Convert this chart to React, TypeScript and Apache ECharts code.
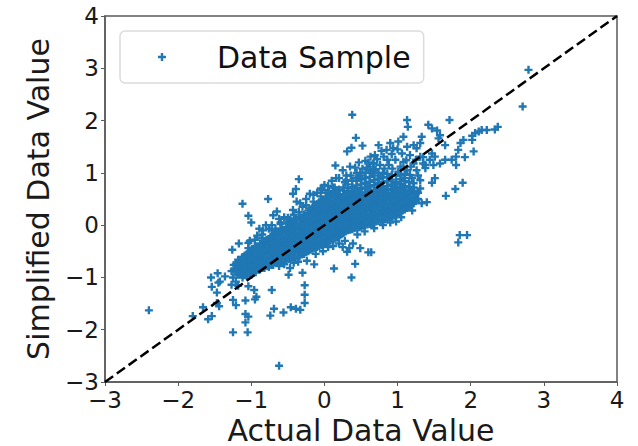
import React, { useEffect, useRef } from "react";
import * as echarts from "echarts";

const seriesName = "Data Sample";
const xTitle = "Actual Data Value";
const yTitle = "Simplified Data Value";
const axisMin = -3;
const axisMax = 4;
const identityLine = [[-3, -3], [4, 4]];

// dense band, one row per x value: [x, y, y, ...]
const coreColumns: number[][] = [
  [-1.24, -0.85, -0.76],
  [-1.18, -0.95, -0.86, -0.77, -0.66],
  [-1.12, -1.0, -0.91, -0.82, -0.73, -0.61],
  [-1.06, -0.97, -0.87, -0.78, -0.69, -0.6, -0.55],
  [-1.0, -0.95, -0.86, -0.77, -0.68, -0.58, -0.48],
  [-0.94, -0.9, -0.81, -0.72, -0.63, -0.54, -0.43],
  [-0.88, -0.85, -0.76, -0.67, -0.58, -0.49, -0.41, -0.35],
  [-0.82, -0.82, -0.72, -0.63, -0.54, -0.45, -0.37, -0.3],
  [-0.76, -0.8, -0.71, -0.62, -0.53, -0.44, -0.35, -0.26],
  [-0.7, -0.76, -0.67, -0.58, -0.49, -0.4, -0.31, -0.24, -0.18],
  [-0.64, -0.72, -0.63, -0.54, -0.45, -0.36, -0.27, -0.19, -0.12],
  [-0.58, -0.7, -0.61, -0.52, -0.43, -0.34, -0.25, -0.16, -0.08],
  [-0.52, -0.68, -0.59, -0.5, -0.41, -0.32, -0.23, -0.14, -0.04],
  [-0.46, -0.65, -0.56, -0.47, -0.38, -0.29, -0.2, -0.11, -0.02, 0.05],
  [-0.4, -0.62, -0.53, -0.44, -0.35, -0.26, -0.17, -0.08, 0.01, 0.1],
  [-0.34, -0.6, -0.51, -0.42, -0.33, -0.24, -0.15, -0.06, 0.03, 0.15],
  [-0.28, -0.55, -0.46, -0.37, -0.28, -0.19, -0.1, -0.01, 0.08, 0.2],
  [-0.22, -0.5, -0.41, -0.32, -0.23, -0.14, -0.05, 0.04, 0.13, 0.2, 0.28],
  [-0.16, -0.45, -0.36, -0.27, -0.18, -0.09, 0.0, 0.09, 0.18, 0.27, 0.35],
  [-0.1, -0.42, -0.33, -0.24, -0.15, -0.06, 0.03, 0.12, 0.21, 0.3, 0.4],
  [-0.04, -0.38, -0.29, -0.2, -0.11, -0.02, 0.07, 0.16, 0.25, 0.34, 0.43, 0.48],
  [0.02, -0.35, -0.26, -0.17, -0.08, 0.01, 0.1, 0.19, 0.28, 0.37, 0.46, 0.52],
  [0.08, -0.3, -0.21, -0.12, -0.03, 0.06, 0.15, 0.24, 0.33, 0.42, 0.51, 0.58],
  [0.14, -0.26, -0.17, -0.08, 0.01, 0.1, 0.19, 0.28, 0.37, 0.46, 0.55, 0.62],
  [0.2, -0.22, -0.13, -0.04, 0.05, 0.14, 0.23, 0.32, 0.41, 0.5, 0.59, 0.68],
  [0.26, -0.15, -0.06, 0.03, 0.12, 0.21, 0.3, 0.39, 0.48, 0.57, 0.66, 0.72],
  [0.32, -0.1, -0.01, 0.08, 0.17, 0.26, 0.35, 0.44, 0.53, 0.62, 0.71, 0.78],
  [0.38, -0.08, 0.01, 0.1, 0.19, 0.28, 0.37, 0.46, 0.55, 0.64, 0.73, 0.85],
  [0.44, -0.05, 0.04, 0.13, 0.22, 0.31, 0.4, 0.49, 0.58, 0.67, 0.76, 0.85, 0.9],
  [0.5, -0.03, 0.06, 0.15, 0.24, 0.33, 0.42, 0.51, 0.6, 0.69, 0.78, 0.87, 0.95],
  [0.56, 0.0, 0.09, 0.18, 0.27, 0.36, 0.45, 0.54, 0.63, 0.72, 0.81, 0.9, 1.0],
  [0.62, 0.02, 0.11, 0.2, 0.29, 0.38, 0.47, 0.56, 0.65, 0.74, 0.83, 0.92, 1.05],
  [0.68, 0.05, 0.14, 0.23, 0.32, 0.41, 0.5, 0.59, 0.68, 0.77, 0.86, 0.95, 1.05],
  [0.74, 0.08, 0.17, 0.26, 0.35, 0.44, 0.53, 0.62, 0.71, 0.8, 0.89, 1.0],
  [0.8, 0.1, 0.19, 0.28, 0.37, 0.46, 0.55, 0.64, 0.73, 0.82, 0.91, 1.0],
  [0.86, 0.12, 0.21, 0.3, 0.39, 0.48, 0.57, 0.66, 0.75, 0.84, 0.92, 0.98],
  [0.92, 0.15, 0.24, 0.33, 0.42, 0.51, 0.6, 0.69, 0.78, 0.87, 0.96],
  [0.98, 0.2, 0.29, 0.38, 0.47, 0.56, 0.65, 0.74, 0.83, 0.95],
  [1.04, 0.25, 0.34, 0.43, 0.52, 0.61, 0.7, 0.79, 0.88, 0.95],
  [1.1, 0.3, 0.39, 0.48, 0.57, 0.66, 0.75, 0.84, 0.9],
  [1.16, 0.36, 0.45, 0.54, 0.63, 0.72, 0.82],
  [1.22, 0.42, 0.51, 0.6, 0.72],
  [1.28, 0.5, 0.62],
];

// second pass through the band, between the columns above
const coreInfill: number[][] = [
  [-1.21, -0.88, -0.74],
  [-1.15, -0.94, -0.8, -0.67],
  [-1.09, -0.96, -0.82, -0.68, -0.58],
  [-1.03, -0.93, -0.79, -0.65, -0.52],
  [-0.97, -0.9, -0.76, -0.62, -0.48],
  [-0.91, -0.85, -0.71, -0.57, -0.43],
  [-0.85, -0.82, -0.68, -0.54, -0.4],
  [-0.79, -0.78, -0.64, -0.5, -0.36, -0.28],
  [-0.73, -0.76, -0.62, -0.48, -0.34, -0.22],
  [-0.67, -0.72, -0.58, -0.44, -0.3, -0.16],
  [-0.61, -0.7, -0.56, -0.42, -0.28, -0.12],
  [-0.55, -0.67, -0.53, -0.39, -0.25, -0.1],
  [-0.49, -0.65, -0.51, -0.37, -0.23, -0.09, 0.02],
  [-0.43, -0.62, -0.48, -0.34, -0.2, -0.06, 0.07],
  [-0.37, -0.6, -0.46, -0.32, -0.18, -0.04, 0.1],
  [-0.31, -0.56, -0.42, -0.28, -0.14, 0.0, 0.14],
  [-0.25, -0.52, -0.38, -0.24, -0.1, 0.04, 0.18],
  [-0.19, -0.47, -0.33, -0.19, -0.05, 0.09, 0.23, 0.3],
  [-0.13, -0.43, -0.29, -0.15, -0.01, 0.13, 0.27, 0.37],
  [-0.07, -0.4, -0.26, -0.12, 0.02, 0.16, 0.3, 0.44],
  [-0.01, -0.36, -0.22, -0.08, 0.06, 0.2, 0.34, 0.48],
  [0.05, -0.32, -0.18, -0.04, 0.1, 0.24, 0.38, 0.52],
  [0.11, -0.28, -0.14, 0.0, 0.14, 0.28, 0.42, 0.58],
  [0.17, -0.24, -0.1, 0.04, 0.18, 0.32, 0.46, 0.62],
  [0.23, -0.18, -0.04, 0.1, 0.24, 0.38, 0.52],
  [0.29, -0.12, 0.02, 0.16, 0.3, 0.44, 0.58],
  [0.35, -0.09, 0.05, 0.19, 0.33, 0.47, 0.61],
  [0.41, -0.06, 0.08, 0.22, 0.36, 0.5, 0.64],
  [0.47, -0.04, 0.1, 0.24, 0.38, 0.52, 0.66, 0.92],
  [0.53, -0.01, 0.13, 0.27, 0.41, 0.55],
  [0.59, 0.01, 0.15, 0.29, 0.43, 0.57, 0.71],
  [0.65, 0.04, 0.18, 0.32, 0.46, 0.6, 1.02],
  [0.71, 0.07, 0.21, 0.35, 0.49, 0.63],
  [0.77, 0.09, 0.23, 0.37, 0.51, 0.65, 0.93],
  [0.83, 0.11, 0.25, 0.39, 0.53, 0.67],
  [0.89, 0.14, 0.28, 0.42, 0.56],
  [0.95, 0.18, 0.32, 0.46, 0.6, 0.74],
  [1.01, 0.23, 0.37, 0.51, 0.65],
  [1.07, 0.28, 0.42, 0.56, 0.7],
  [1.13, 0.33, 0.47, 0.61],
  [1.19, 0.4, 0.54, 0.68],
  [1.25, 0.46, 0.6],
];

// separate crosses outside the band
const outliers: number[][] = [
  [-2.4, -1.63], [-0.62, -2.69], [-1.25, -2.05], [-1.05, -2.05], [-1.08, -1.86], [-1.04, -1.75],
  [-1.08, -1.7], [-0.74, -1.73], [-0.69, -1.6], [-0.56, -1.67], [-0.46, -1.57], [-0.39, -1.6],
  [-0.33, -1.62], [-0.27, -1.49], [-0.27, -1.33], [-0.27, -1.15], [-0.72, -1.24], [-0.3, -0.91],
  [-0.49, -0.95], [-0.47, -0.82], [-0.14, -0.75], [0.13, -0.83], [0.37, -1.0], [0.42, -0.74],
  [0.31, -0.51], [0.39, -0.35], [0.49, -0.44], [0.6, -0.52], [0.25, -0.42], [0.34, -0.44],
  [-1.08, -1.44], [-1.21, -1.53], [-1.25, -1.43], [-0.93, -1.37], [-0.95, -1.42], [-0.96, -1.24],
  [-1.04, -1.17], [-1.18, -1.16], [-1.44, -1.55], [-1.47, -1.49], [-1.66, -1.57], [-1.8, -1.74],
  [-1.54, -1.74], [-1.59, -1.8], [-1.55, -1.0], [-1.46, -0.92], [-1.54, -1.18], [-1.47, -1.29],
  [-1.45, -1.1], [-1.43, -1.08], [-1.36, -0.98], [-1.27, -0.88], [-1.2, -0.9], [-1.25, -1.0],
  [-1.21, -1.08], [-1.27, -1.14], [-1.26, -0.47], [-1.17, -0.35], [-1.04, -0.34], [-1.04, -0.44],
  [-0.95, -0.28], [-0.89, -0.07], [-0.8, 0.0], [-0.76, -0.07], [-0.67, -0.07], [-1.04, 0.18],
  [-1.0, 0.05], [-1.12, 0.41], [-0.7, 0.19], [-0.65, 0.26], [-0.43, 0.29], [-0.47, 0.1],
  [-0.33, 0.42], [-0.38, 0.45], [-0.77, 0.5], [-0.35, 0.88], [-0.39, 0.69], [-0.43, 0.6],
  [-0.15, 0.58], [-0.03, 0.67], [0.0, 0.77], [-0.25, 0.5], [-0.2, 0.6], [-0.1, 0.62],
  [-0.05, 0.7], [-0.55, 0.15], [-0.6, 0.05], [-0.85, -0.18], [-1.02, -0.3], [-0.3, 0.35],
  [0.38, 2.11], [0.43, 1.67], [0.52, 1.52], [0.37, 1.48], [0.31, 1.41], [0.56, 1.23],
  [0.15, 1.14], [0.35, 1.12], [0.49, 1.0], [0.16, 0.9], [0.25, 1.05], [0.3, 0.95],
  [0.42, 1.1], [0.47, 1.2], [0.62, 1.12], [0.1, 0.85], [0.05, 0.75], [0.2, 0.9],
  [0.28, 0.82], [0.36, 0.95], [0.52, 1.08], [0.67, 1.18],
  [2.79, 2.97], [2.71, 2.27], [2.37, 1.88], [2.33, 1.83], [2.22, 1.82], [2.15, 1.82],
  [2.11, 1.79], [2.06, 1.76], [2.02, 1.71], [2.02, 1.63], [1.9, 1.63], [1.86, 1.57],
  [1.83, 1.44], [1.8, 1.31], [1.92, 1.3], [2.04, 1.41], [1.74, 1.25], [1.8, 1.15],
  [1.65, 1.25], [1.58, 1.18], [1.49, 1.15], [1.51, 1.31], [1.47, 1.37], [1.38, 1.15],
  [1.38, 1.09], [1.44, 1.25], [1.35, 1.3], [1.65, 1.53], [1.58, 1.72], [1.56, 1.66],
  [1.54, 1.81], [1.47, 1.85], [1.42, 1.92], [1.71, 2.01], [1.13, 2.01], [1.14, 1.88],
  [1.51, 0.9], [1.47, 0.81], [1.89, 0.81], [1.79, 0.69], [1.66, 0.56], [1.33, 1.69],
  [1.22, 1.53], [1.31, 1.57], [1.26, 1.47], [1.08, 1.69], [1.01, 1.6], [0.9, 1.57],
  [0.74, 1.53], [1.13, 1.5], [0.94, 1.47], [0.85, 1.44], [1.06, 1.37], [0.69, 1.34],
  [0.81, 1.31], [1.17, 1.34], [0.97, 1.25], [1.08, 1.21], [0.67, 1.18], [0.76, 1.15],
  [0.88, 1.15], [1.22, 1.18], [1.31, 1.31], [1.13, 1.05], [1.26, 1.05], [1.35, 1.18],
  [0.63, 1.31], [1.01, 1.02], [1.17, 0.96], [1.31, 0.86], [1.22, 0.8], [1.31, 0.7],
  [0.98, 0.07], [1.33, 0.42], [1.4, 0.44], [0.64, -0.52], [1.85, -0.19], [1.95, -0.19], [1.83, -0.33],
  [0.92, 1.36], [1.0, 1.45], [0.78, 1.42], [0.72, 1.26], [0.86, 1.25], [0.93, 1.08], [1.04, 1.12],
  [1.12, 1.24], [1.18, 1.12], [1.25, 1.25], [0.82, 1.08], [0.7, 1.07], [0.58, 1.1], [0.6, 1.2],
  [1.1, 0.98], [1.2, 0.9], [1.28, 0.95], [0.3, 0.86], [0.44, 1.0], [-0.52, 0.05], [-0.62, 0.12],
  [-0.72, 0.0], [-0.84, -0.1], [-0.92, -0.2], [-0.15, 0.45], [-0.25, 0.38], [0.02, 0.62], [0.12, 0.72],
  [-0.62, -0.78], [-0.55, -0.75], [-0.42, -0.72], [-0.36, -0.7], [-0.24, -0.68], [-0.12, -0.55],
  [-0.02, -0.5], [0.05, -0.42], [0.12, -0.4], [0.2, -0.35], [0.28, -0.3], [0.45, -0.18],
  [0.55, -0.12], [0.68, -0.06], [0.8, 0.0], [0.9, 0.05], [1.05, 0.15], [1.2, 0.28],
  [-0.95, -0.4], [-0.85, -0.25], [-0.72, -0.1], [-0.6, 0.02], [-0.5, 0.14], [-0.42, 0.2],
  [-0.35, 0.25], [-0.05, 0.55], [0.06, 0.66], [0.14, 0.72],
];

const points: number[][] = [
  ...coreColumns.flatMap((column) => column.slice(1).map((y) => [column[0], y])),
  ...coreInfill.flatMap((column) => column.slice(1).map((y) => [column[0], y])),
  ...outliers,
];

const plus = "path://M2.8 0h2.4v2.8h2.8v2.4h-2.8v2.8h-2.4v-2.8h-2.8v-2.4h2.8z";
const font = "DejaVu Sans";
const axisColor = "#5a5a5a";

const axisCommon = {
  type: "value",
  min: axisMin,
  max: axisMax,
  interval: 1,
  nameLocation: "middle",
  nameTextStyle: { fontFamily: font, fontSize: 30, color: "#1a1a1a" },
  axisLine: { show: true, onZero: false, lineStyle: { color: axisColor, width: 1.5 } },
  axisTick: { show: true, length: 4, lineStyle: { color: axisColor, width: 1 } },
  axisLabel: {
    fontFamily: font,
    fontSize: 23,
    color: "#1a1a1a",
    margin: 6,
    formatter: (v: number) => String(v).replace("-", "\u2212"),
  },
  splitLine: { show: false },
};

export default function App() {
  const ref = useRef<HTMLDivElement>(null);
  useEffect(() => {
    const chart = echarts.init(ref.current!, undefined, { renderer: "svg" });
    chart.setOption({
      animation: false,
      backgroundColor: "#ffffff",
      grid: { left: 105, right: 21, top: 16, bottom: 64, outerBoundsMode: "none", show: true, borderColor: axisColor, borderWidth: 1.5, backgroundColor: "transparent" },
      legend: {
        left: 120,
        top: 31,
        data: [{ name: seriesName, icon: plus }],
        itemWidth: 8,
        itemHeight: 8,
        padding: [11, 13, 11, 38],
        borderColor: "#dcdcdc",
        borderWidth: 1.5,
        borderRadius: 5,
        backgroundColor: "#ffffff",
        textStyle: { fontFamily: font, fontSize: 30, color: "#111111", padding: [0, 0, 0, 46] },
      },
      xAxis: { ...axisCommon, name: xTitle, nameGap: 33 },
      yAxis: { ...axisCommon, name: yTitle, nameGap: 52 },
      series: [
        { name: seriesName, type: "scatter", symbol: plus, symbolSize: 8, data: points, itemStyle: { color: "#1f77b4", opacity: 1 }, z: 2 },
        { name: "identity", type: "line", data: identityLine, symbol: "none", lineStyle: { color: "#000000", width: 2.5, type: [10, 4.5] }, z: 3 },
      ],
    });
    return () => chart.dispose();
  }, []);
  return <div ref={ref} style={{ position: "absolute", left: 0, top: 0, width: 638, height: 446 }} />;
}
